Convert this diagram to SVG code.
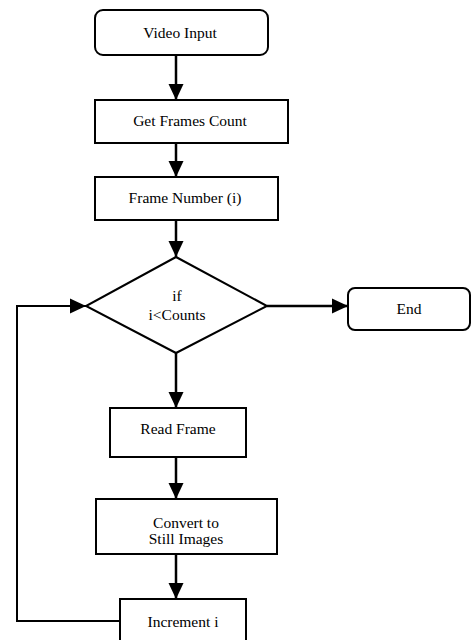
<svg xmlns="http://www.w3.org/2000/svg" width="472" height="640" viewBox="0 0 472 640">
<defs>
<marker id="ah" markerUnits="userSpaceOnUse" markerWidth="16" markerHeight="16" refX="16" refY="8" orient="auto">
<path d="M0,0.5 L16,8 L0,15.5 Z" fill="#000"/>
</marker>
<style>
.box{fill:#fff;stroke:#000;stroke-width:2}
.t{font-family:"Liberation Serif","Times New Roman",serif;font-size:15.5px;fill:#000;text-anchor:middle}
.c{fill:none;stroke:#000;stroke-width:2.5}
.loop{fill:none;stroke:#000;stroke-width:2}
</style>
</defs>
<rect width="472" height="640" fill="#fff"/>
<g id="connectors">
<line class="c" x1="176" y1="55" x2="176" y2="100" marker-end="url(#ah)"/>
<line class="c" x1="176" y1="143" x2="176" y2="177" marker-end="url(#ah)"/>
<line class="c" x1="176" y1="220" x2="176" y2="257" marker-end="url(#ah)"/>
<line class="c" x1="176" y1="353" x2="176" y2="408" marker-end="url(#ah)"/>
<line class="c" x1="176" y1="457" x2="176" y2="499" marker-end="url(#ah)"/>
<line class="c" x1="176" y1="554" x2="176" y2="599" marker-end="url(#ah)"/>
<line class="c" x1="267" y1="306" x2="348" y2="306" marker-end="url(#ah)"/>
<polyline class="loop" points="120,621 17,621 17,306 86,306" marker-end="url(#ah)"/>
</g>
<g id="video-input">
<rect class="box" x="95" y="10" width="173" height="45" rx="8"/>
<text class="t" x="180" y="38">Video Input</text>
</g>
<g id="get-frames-count">
<rect class="box" x="95" y="100" width="193" height="43"/>
<text class="t" x="190" y="126">Get Frames Count</text>
</g>
<g id="frame-number">
<rect class="box" x="95" y="177" width="183" height="43"/>
<text class="t" x="185" y="203">Frame Number (i)</text>
</g>
<g id="decision">
<polygon class="box" points="176,257 267,306 176,353 86,306"/>
<text class="t" x="177" y="301">if</text>
<text class="t" x="177" y="320">i&lt;Counts</text>
</g>
<g id="end">
<rect class="box" x="348" y="288" width="122" height="42" rx="7"/>
<text class="t" x="409" y="314">End</text>
</g>
<g id="read-frame">
<rect class="box" x="110" y="408" width="136" height="49"/>
<text class="t" x="178" y="434">Read Frame</text>
</g>
<g id="convert">
<rect class="box" x="96" y="499" width="181" height="55"/>
<text class="t" x="186" y="528">Convert to</text>
<text class="t" x="186" y="544">Still Images</text>
</g>
<g id="increment">
<rect class="box" x="120" y="599" width="126" height="50"/>
<text class="t" x="183" y="627">Increment i</text>
</g>
</svg>
